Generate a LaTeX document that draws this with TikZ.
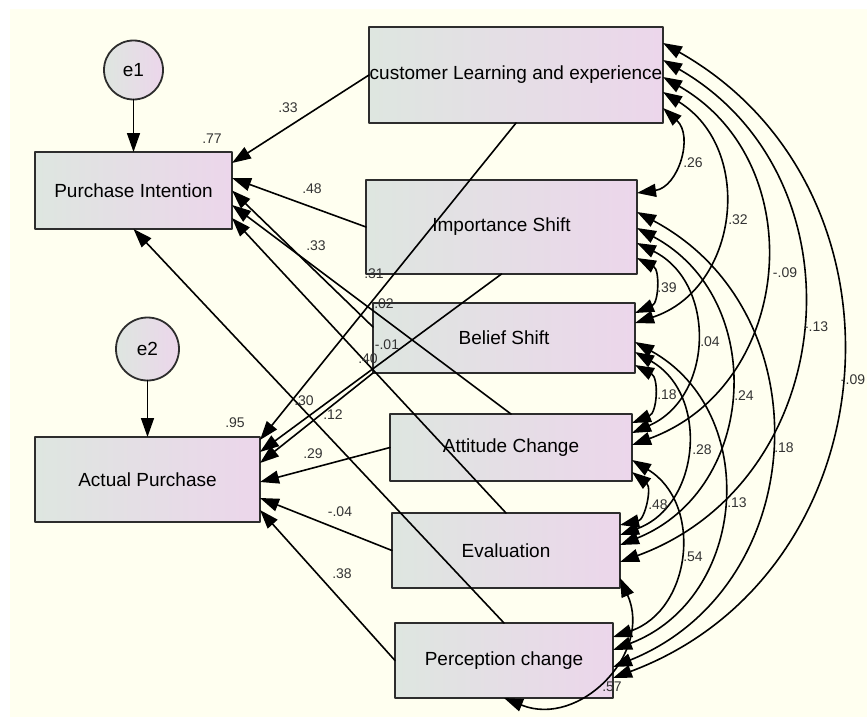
\documentclass[tikz,border=0pt]{standalone}
\usepackage{fontspec}
\setmainfont{Liberation Sans}
\usetikzlibrary{arrows.meta}
\definecolor{paper}{RGB}{255,255,240}
\definecolor{boxL}{RGB}{222,230,224}
\definecolor{boxR}{RGB}{236,214,235}
\definecolor{rim}{RGB}{45,45,45}
\begin{document}
\begin{tikzpicture}[x=1pt, y=-1pt, line join=round, line cap=round, >={Triangle[length=19pt,width=13pt]},
	obs/.style={draw=rim, line width=1.8pt, left color=boxL, right color=boxR, inner sep=0pt, outer sep=0pt, font=\fontsize{19}{22}\selectfont},
	errc/.style={obs, circle, minimum size=#1},
	reg/.style={->, line width=1.6pt},
	cov/.style={<->, line width=1.6pt, bend left=65, looseness=1.2},
	wt/.style={font=\fontsize{14}{16}\selectfont, text=black!80, inner sep=0pt}]
	\useasboundingbox (0,0) rectangle (867,717);
	\fill[white] (0,0) rectangle (867,717);
	\fill[paper] (10,9) rectangle (867,717);
	% bien quan sat
	\node[obs, minimum width=197pt, minimum height=77pt] (pi) at (133.5,190.5) {Purchase Intention};
	\node[obs, minimum width=225pt, minimum height=85pt] (ap) at (147.5,479.5) {Actual Purchase};
	\node[obs, minimum width=294pt, minimum height=96pt] (cl) at (516,75) {customer Learning and experience};
	\node[obs, minimum width=271pt, minimum height=94pt] (is) at (501.5,227) {Importance Shift};
	\node[obs, minimum width=262pt, minimum height=70pt] (bs) at (504,338) {Belief Shift};
	\node[obs, minimum width=242pt, minimum height=67pt] (ac) at (511,447.5) {Attitude Change};
	\node[obs, minimum width=228pt, minimum height=75pt] (ev) at (506,550.5) {Evaluation};
	\node[obs, minimum width=218pt, minimum height=75pt] (pc) at (504,660.5) {Perception change};
	\node[errc=59pt] (e1) at (133.5,70) {e1};
	\node[errc=63pt] (e2) at (147.5,349) {e2};
	% duong hoi quy
	\draw[reg] (e1) -- (pi);
	\draw[reg] (e2) -- (ap);
	\draw[reg] (cl.west) -- ([yshift=27.5pt]pi.east);
	\draw[reg] (is.west) -- ([yshift=12.5pt]pi.east);
	\draw[reg] ([yshift=11pt]bs.west) -- (pi.east);
	\draw[reg] (ac.north) -- ([yshift=-14.5pt]pi.east);
	\draw[reg] (ev.north) -- ([yshift=-27.5pt]pi.east);
	\draw[reg] (pc.north) -- (pi.south);
	\draw[reg] (cl.south) -- ([yshift=39.5pt]ap.east);
	\draw[reg] (is.south) -- ([yshift=27.5pt]ap.east);
	\draw[reg] (bs.south west) -- ([yshift=16.5pt]ap.east);
	\draw[reg] (ac.west) -- ([yshift=-2.5pt]ap.east);
	\draw[reg] (ev.west) -- ([yshift=-18.5pt]ap.east);
	\draw[reg] (pc.west) -- ([yshift=-30.5pt]ap.east);
	% hiep phuong sai
	\foreach \a/\sa/\b/\sb in {cl/-33/is/34, cl/-17/bs/15, cl/-2/ac/2.5, cl/15/ev/-11.5, cl/32/pc/-17.5,
		is/-31/bs/25, is/-16/ac/14.5, is/-1/ev/5.5, is/15/pc/-6.5,
		bs/-27/ac/24.5, bs/-14/ev/15.5, bs/-4/pc/10.5,
		ac/-24.5/ev/25.5, ac/-12.5/pc/23.5}
		\draw[cov] ([yshift=\sa pt]\a.east) to ([yshift=\sb pt]\b.east);
	\draw[cov, bend left=68, looseness=1.25] ([yshift=-27.5pt]ev.east) to (pc.south);
	% he so
	\foreach \t/\x/\y [count=\i] in {.77/212/139, .95/235/423, .33/288/108, .48/312/189, .33/316/246,
		.31/374/274, .02/384/304, -.01/387/345, .40/368/359, .30/304/401, .12/333/415,
		.29/313/454, -.04/340/512, .38/342/574, .26/693/163, .32/738/220, -.09/785/273,
		-.13/816/327, -.09/853/380, .39/667/288, .04/710/342, .24/744/396, .18/784/448,
		.18/667/395, .28/702/450, .13/737/503, .48/658/505, .54/693/557, .57/612/687}
		\node[wt] (w\i) at (\x,\y) {\t};
\end{tikzpicture}
\end{document}
